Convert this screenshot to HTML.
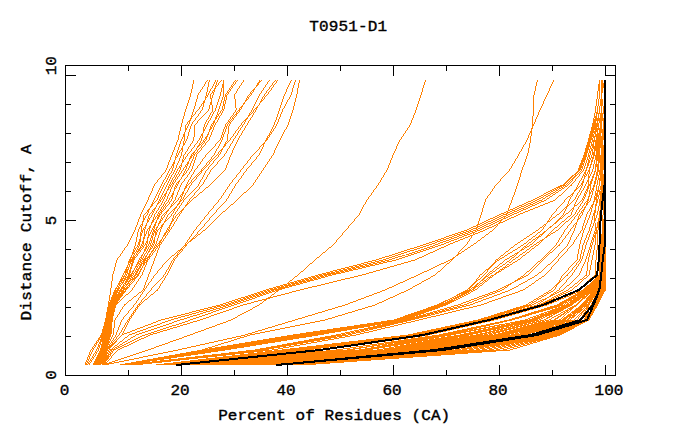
<!DOCTYPE html>
<html>
<head>
<meta charset="utf-8">
<title>T0951-D1</title>
<style>
html,body{margin:0;padding:0;background:#fff;}
body{width:680px;height:440px;overflow:hidden;}
svg{display:block;}
text{font-family:"Liberation Mono","DejaVu Sans Mono",monospace;font-weight:normal;font-size:16px;fill:#000;stroke:#000;stroke-width:0.4px;}
</style>
</head>
<body>
<svg width="680" height="440" viewBox="0 0 680 440">
<rect x="0" y="0" width="680" height="440" fill="#fff"/>
<defs><filter id="t" x="0" y="0" width="680" height="440" filterUnits="userSpaceOnUse" color-interpolation-filters="sRGB"><feComponentTransfer><feFuncA type="discrete" tableValues="0 1 1 1"/></feComponentTransfer></filter></defs>
<g fill="none" stroke="#ff8000" stroke-width="0.7" shape-rendering="crispEdges" filter="url(#t)">
<polyline points="84.9,365 91,350 101.3,335 105.6,320 108.4,305 110.8,290 112.8,275 116.9,260 127.4,245 135,230 140.6,215 147.9,200 154.4,185 166.2,170 171.8,155 177.9,140 181.5,125 185.5,110 190.5,95 194,80"/>
<polyline points="86,365 93,350 102.072,335 106.218,320 108.837,305 115,290 124.884,275 129.4,260 137.9,245 143,230 152.1,215 159.4,200 166.8,185 175,170 181.5,155 184.1,140 185.9,125 198,110 208,95 216,80"/>
<polyline points="87.4,365 96.75,350 102.671,335 106.495,320 109.643,305 115.611,290 123,275 130.3,260 135.3,245 138.5,230 146.8,215 154.1,200 161.5,185 169.7,170 177.9,155 186.7,140 191.2,125 202,110 206.3,95 209.5,80"/>
<polyline points="89,365 98.5,350 103.457,335 107.209,320 110.062,305 116.8,290 125.279,275 132,260 143.2,245 144.7,230 149.4,215 161.2,200 171.2,185 180.3,170 184.1,155 193.8,140 194.7,125 208.7,110 213,95 217.5,80"/>
<polyline points="93,365 100.5,350 104.017,335 107.633,320 110.28,305 117.559,290 128.554,275 132.9,260 141.5,245 147.4,230 157.4,215 166.5,200 172.9,185 182.9,170 192.9,155 201.7,140 204.4,125 212.9,110 210.4,95 221.5,80"/>
<polyline points="93.7075,365 101.207,350 104.592,335 107.745,320 110.854,305 118.54,290 126.64,275 131.2,260 139.7,245 141.2,230 144.1,215 156.8,200 164.1,185 172.4,170 176.2,155 181.4,140 188.5,125 193.8,110 198,95 207.5,80"/>
<polyline points="94.5992,365 101.692,350 105.721,335 108.305,320 111.301,305 120.062,290 130.61,275 140.5,260 146.8,245 149.1,230 154.7,215 163.8,200 169.4,185 177.6,170 187.6,155 199.1,140 207,125 215.4,110 220.4,95 224,80"/>
<polyline points="94.9935,365 102.047,350 106.406,335 109.074,320 111.796,305 120.855,290 129.34,275 133.8,260 145,245 151.8,230 160,215 171.8,200 175.6,185 188.2,170 194.5,155 206.1,140 211.5,125 222,110 225.4,95 235.5,80"/>
<polyline points="95.6905,365 102.523,350 106.996,335 109.359,320 112.652,305 121.369,290 131.656,275 139,260 148.5,245 153.5,230 158.7,215 169.1,200 177.5,185 185.6,170 191.2,155 204.4,140 213.2,125 218.7,110 223.7,95 223,80"/>
<polyline points="96.4099,365 102.812,350 107.6,335 110.047,320 112.879,305 122.79,290 134.872,275 143.4,260 153.8,245 156.2,230 162.6,215 177.9,200 187.9,185 201.5,170 214.1,155 222,140 227.3,125 238.7,110 251,95 260,80"/>
<polyline points="96.838,365 103.242,350 108.043,335 110.271,320 113.57,305 123.157,290 132.984,275 141.8,260 150.3,245 155,230 165.3,215 174.8,200 180.9,185 191.8,170 196.5,155 208.8,140 215,125 223.7,110 227,95 237.5,80"/>
<polyline points="97.7072,365 103.963,350 108.676,335 110.605,320 114.033,305 124.245,290 137.511,275 147,260 155.6,245 160.6,230 167.9,215 182.4,200 190.6,185 203.2,170 216.8,155 229.9,140 240.6,125 254.4,110 267,95 278,80"/>
<polyline points="98.4499,365 104.247,350 109.398,335 111.312,320 114.428,305 125.564,290 135.781,275 144.5,260 152.1,245 157.9,230 171.5,215 180.6,200 186.2,185 195.3,170 206.2,155 220.2,140 225.6,125 236.2,110 234.5,95 244,80"/>
<polyline points="99.2199,365 104.798,350 109.949,335 111.847,320 115.193,305 126.2,290 138.7,275 145.6,260 157.4,245 168.5,230 174.1,215 184.1,200 198.5,185 206.8,170 219.4,155 227.3,140 229.1,125 240.3,110 248.7,95 262,80"/>
<polyline points="99.469,365 105.314,350 110.9,335 112.2,320 115.6,305 131.9,290 141.9,275 148,260 159.1,245 166.8,230 176.8,215 192.1,200 210,185 225.3,170 230.9,155 237.9,140 246.8,125 256,110 264.4,95 275.5,80"/>
<polyline points="100.267,365 105.713,350 113,335 115,320 124.4,305 143.1,290 148.7,275 154.4,260 160,245 170.3,230 179.4,215 189.4,200 202.1,185 211.2,170 224.7,155 233.5,140 243.2,125 252,110 259.5,95 269.5,80"/>
<polyline points="100.81,365 106.398,350 116,335 121.9,320 134.4,305 144.4,290 155,275 167.6,260 185.6,245 204.7,230 220,215 237.1,200 252.9,185 262.9,170 272.9,155 279.9,140 287.9,125 293,110 296.8,95 299.5,80"/>
<polyline points="101.916,365 106.881,350 119,335 128.1,320 138.1,305 150.6,290 164.4,275 172.8,260 184.7,245 195,230 206.8,215 219.4,200 229.4,185 241.2,170 252.9,155 267,140 276.8,125 282.7,110 291,95 295.5,80"/>
<polyline points="102.4,365 107.4,350 121.75,335 129.4,320 139.4,305 157.5,290 166.9,275 174.3,260 186.5,245 200.3,230 212.9,215 226.5,200 235.6,185 246.5,170 259.1,155 266.1,140 274.1,125 279.4,110 284.4,95 291.5,80"/>
<polyline points="103,365 148,350 190,335 231,320 259,305 279,290 298,275 315,260 333,245 346,230 358.75,215 367,200 378,185 387,170 393,155 400,140 410,125 416,110 421,95 425.5,80"/>
<polyline points="104,365 178,350 245,335 295,320 345,305 385,290 418,275 450,260 473,245 493,230 506.5,215 512,200 517.5,185 522,170 527.5,155 530.5,140 532.5,125 533.3,110 534,95 537.5,80"/>
<polyline points="120,365 202,350 250,335 325,320 375,305 408,290 435,275 452,260 466,245 476,230 481,215 485.5,200 496,185 509.5,170 518.5,155 527,140 533.5,125 540,110 547,95 553.75,80"/>
<polyline points="103,365 108.6,350 121.75,335 161,320 220,305 266,290 318,275 376,260 423,245 467,230 499,215 533,200 561.5,185 578,170 584,155 588.5,140 592.5,125 595.5,110 597.5,95 599.5,80"/>
<polyline points="103.167,365 110.4,350 129,335 170.667,320 224.667,305 270,290 322.667,275 382.667,260 429,245 471.333,230 503.333,215 537.333,200 563.667,185 579.167,170 584.833,155 589.333,140 593.5,125 597.5,110 599.5,95 599.5,80"/>
<polyline points="103.333,365 112.2,350 136.25,335 180.333,320 229.333,305 274,290 327.333,275 389.333,260 435,245 475.667,230 507.667,215 541.667,200 565.833,185 580.333,170 585.667,155 590.167,140 594.5,125 597.5,110 599.5,95 599.5,80"/>
<polyline points="103.5,365 114,350 143.5,335 190,320 234,305 278,290 332,275 396,260 441,245 480,230 512,215 546,200 568,185 581.5,170 586.5,155 591,140 595.5,125 597.5,110 599.5,95 599.5,80"/>
<polyline points="104,365 118,350 150,335 200,320 243,305 300,290 362,275 415,260 448,245 485,230 518,215 555,200 571.5,185 583.5,170 588.5,155 592.5,140 596.5,125 599.5,110 601.5,95 601.5,80"/>
<polyline points="120,365 203,350 293,335 394,320 437,305 468.688,290 480.329,275 498.666,260 523.102,245 542.162,230 552.013,215 565.431,200 580.798,185 589.142,170 593.5,155 596,140 598.5,125 601.5,110 601.5,95 601.5,80"/>
<polyline points="120.6,365 207.4,350 298,335 396,320 438.8,305 466.715,290 484.332,275 496.282,260 515.089,245 537.724,230 557.377,215 574.383,200 582.602,185 586.357,170 592,155 594.4,140 597.5,125 599.5,110 601.5,95 601.5,80"/>
<polyline points="121.2,365 211.8,350 303,335 398,320 440.6,305 472.226,290 486.644,275 505.322,260 530.382,245 547.261,230 563.361,215 569.537,200 578.097,185 586.124,170 590,155 594,140 597.5,125 599.5,110 601.5,95 601.5,80"/>
<polyline points="121.8,365 216.2,350 308,335 400,320 442.4,305 469.806,290 488.873,275 510.299,260 526.651,245 547.055,230 565.314,215 582.239,200 588.594,185 589.145,170 594.4,155 597,140 598.5,125 601.5,110 601.5,95 602.5,80"/>
<polyline points="122.4,365 220.6,350 313,335 402,320 444.2,305 472.376,290 492.5,275 513.478,260 534.163,245 557.806,230 574.073,215 583.793,200 589.511,185 595.394,170 597,155 598,140 600.5,125 603.5,110 601.5,95 602.5,80"/>
<polyline points="123,365 225,350 318,335 404,320 446,305 475.437,290 494.192,275 518.234,260 537.601,245 552.914,230 570.894,215 576.736,200 585.723,185 592.77,170 596,155 597.5,140 600.5,125 601.5,110 601.5,95 602.5,80"/>
<polyline points="126,365 255,350 336,335 405,320 458,305 498.268,290 528.047,275 542.54,260 559.603,245 570.613,230 581.907,215 588.427,200 590.753,185 595.5,170 598,155 599,140 600.5,125 601.5,110 601.5,95 602.5,80"/>
<polyline points="128,365 259,350 342,335 408,320 464,305 502.154,290 524.103,275 540.706,260 555.84,245 565.299,230 576.712,215 587.5,200 594.217,185 597.5,170 598.75,155 600,140 601.5,125 603.5,110 601.5,95 602.5,80"/>
<polyline points="130,365 263,350 348,335 411,320 470,305 510.495,290 537.234,275 554.054,260 567.533,245 574.448,230 579.325,215 590.604,200 594.65,185 598.5,170 599.5,155 600.5,140 601.5,125 603.5,110 601.5,95 604.5,80"/>
<polyline points="134,365 272,350 356,335 419,320 481,305 523.163,290 545.405,275 558.512,260 572.044,245 581.914,230 586.532,215 595.068,200 599.401,185 601.5,170 602,155 602.5,140 604.5,125 604.5,110 604.5,95 604.5,80"/>
<polyline points="156,365 282,350 408,335 478,320 526,305 550.902,290 567.517,275 579.771,260 583.018,245 589.234,230 593.416,215 597.846,200 601.185,185 602,170 602.75,155 603,140 604.5,125 604.5,110 604.5,95 604.5,80"/>
<polyline points="160,365 287,350 410,335 480,320 529,305 554.218,290 562.846,275 577.021,260 579.662,245 583.975,230 590.167,215 594.285,200 597.023,185 600,170 601,155 601.5,140 603.5,125 604.5,110 604.5,95 604.5,80"/>
<polyline points="163,365 292,350 412,335 482,320 532,305 563.278,290 579.008,275 585.786,260 590.485,245 595.234,230 594.772,215 596.44,200 599.204,185 600.8,170 601.5,155 602,140 603.5,125 604.5,110 604.5,95 604.5,80"/>
<polyline points="169,365 300,350 416,335 485,320 537,305 558.68,290 571.774,275 581.681,260 586.116,245 591.333,230 597.196,215 600.116,200 601.664,185 603,170 603,155 604.5,140 604.5,125 604.5,110 604.5,95 604.5,80"/>
<polyline points="171,365 303,350 418,335 486,320 539,305 567.791,290 586.557,275 588.186,260 591.995,245 596.544,230 600.734,215 599.87,200 602.929,185 603,170 604.5,155 604.5,140 604.5,125 604.5,110 604.5,95 604.5,80"/>
<polyline points="172,365 306,350 419,335 487,320 540,305 572,290 589,275 592,260 595,245 596.4,230 599.6,215 601,200 602.5,185 604.5,170 604.5,155 604.5,140 604.5,125 604.5,110 604.5,95 604.5,80"/>
<polyline points="175,365 316,350 422,335 488.5,320 542,305 578,290 595,275 596,260 597.5,245 598,230 600,215 602,200 603,185 604.5,170 604.5,155 604.5,140 604.5,125 604.5,110 604.5,95 604.5,80"/>
<polyline points="177,365 321.5,350 428,335 494,320 547,305 583,290 599.5,275 600,260 600.6,245 602.5,230 603,215 603,200 604.5,185 604.5,170 604.5,155 604.5,140 604.5,125 604.5,110 604.5,95 604.5,80"/>
<polyline points="180.126,365 335.965,350 438.624,335 508.994,320 556.821,305 583.714,290 599.53,275 600.061,260 600.703,245 602.545,230 603,215 603,200 604.5,185 604.5,170 604.5,155 604.5,140 604.5,125 604.5,110 604.5,95 604.5,80"/>
<polyline points="184.633,365 346.52,350 442.364,335 509.328,320 558.272,305 584.665,290 599.561,275 600.121,260 600.806,245 602.591,230 603,215 603,200 604.5,185 604.5,170 604.5,155 604.5,140 604.5,125 604.5,110 604.5,95 604.5,80"/>
<polyline points="185.67,365 346.708,350 444.248,335 509.763,320 560.072,305 585.022,290 599.591,275 600.182,260 600.909,245 602.636,230 603,215 604.5,200 604.5,185 604.5,170 604.5,155 604.5,140 604.5,125 604.5,110 604.5,95 604.5,80"/>
<polyline points="186.811,365 348.107,350 444.538,335 509.939,320 561.009,305 585.069,290 599.621,275 600.242,260 601.012,245 602.682,230 603,215 604.5,200 604.5,185 604.5,170 604.5,155 604.5,140 604.5,125 604.5,110 604.5,95 604.5,80"/>
<polyline points="188.77,365 359.087,350 446.378,335 511.776,320 563.594,305 585.082,290 599.652,275 600.303,260 601.115,245 602.727,230 604.5,215 604.5,200 604.5,185 604.5,170 604.5,155 604.5,140 604.5,125 604.5,110 604.5,95 604.5,80"/>
<polyline points="198.554,365 363.47,350 448.702,335 524.842,320 566.153,305 586.18,290 599.682,275 600.364,260 601.218,245 602.773,230 604.5,215 604.5,200 604.5,185 604.5,170 604.5,155 604.5,140 604.5,125 604.5,110 604.5,95 604.5,80"/>
<polyline points="199.924,365 364.12,350 451.094,335 524.852,320 566.715,305 587.474,290 599.712,275 600.424,260 601.321,245 602.818,230 604.5,215 604.5,200 604.5,185 604.5,170 604.5,155 604.5,140 604.5,125 604.5,110 604.5,95 604.5,80"/>
<polyline points="207.838,365 366.35,350 459.874,335 529.258,320 568.429,305 587.876,290 599.742,275 600.485,260 601.424,245 602.864,230 604.5,215 604.5,200 604.5,185 604.5,170 604.5,155 604.5,140 604.5,125 604.5,110 604.5,95 604.5,80"/>
<polyline points="211.658,365 377.415,350 462.282,335 531.601,320 568.592,305 588.44,290 599.773,275 600.545,260 601.527,245 602.909,230 604.5,215 604.5,200 604.5,185 604.5,170 604.5,155 604.5,140 604.5,125 604.5,110 604.5,95 604.5,80"/>
<polyline points="211.875,365 383.836,350 466.538,335 533.073,320 568.659,305 589.296,290 599.803,275 600.606,260 601.63,245 602.955,230 604.5,215 604.5,200 604.5,185 604.5,170 604.5,155 604.5,140 604.5,125 604.5,110 604.5,95 604.5,80"/>
<polyline points="212.876,365 386.243,350 468.889,335 533.524,320 568.753,305 590.126,290 599.833,275 600.667,260 601.733,245 603,230 604.5,215 604.5,200 604.5,185 604.5,170 604.5,155 604.5,140 604.5,125 604.5,110 604.5,95 604.5,80"/>
<polyline points="219.472,365 387.536,350 468.95,335 535.469,320 568.788,305 591.528,290 599.864,275 600.727,260 601.836,245 603.045,230 604.5,215 604.5,200 604.5,185 604.5,170 604.5,155 604.5,140 604.5,125 604.5,110 604.5,95 604.5,80"/>
<polyline points="221.723,365 387.55,350 476.298,335 539.281,320 569.662,305 591.83,290 599.894,275 600.788,260 601.939,245 603.091,230 604.5,215 604.5,200 604.5,185 604.5,170 604.5,155 604.5,140 604.5,125 604.5,110 604.5,95 604.5,80"/>
<polyline points="224.523,365 388.829,350 479.162,335 539.308,320 569.99,305 591.911,290 599.924,275 600.848,260 602.042,245 603.136,230 604.5,215 604.5,200 604.5,185 604.5,170 604.5,155 604.5,140 604.5,125 604.5,110 604.5,95 604.5,80"/>
<polyline points="225.318,365 394.272,350 484.054,335 543.941,320 570.152,305 592.126,290 599.955,275 600.909,260 602.145,245 603.182,230 604.5,215 604.5,200 604.5,185 604.5,170 604.5,155 604.5,140 604.5,125 604.5,110 604.5,95 604.5,80"/>
<polyline points="229.084,365 394.733,350 488.891,335 544.212,320 571.688,305 592.219,290 599.985,275 600.97,260 602.248,245 603.227,230 604.5,215 604.5,200 604.5,185 604.5,170 604.5,155 604.5,140 604.5,125 604.5,110 604.5,95 604.5,80"/>
<polyline points="229.599,365 394.992,350 494.405,335 548.824,320 575.605,305 592.255,290 600.015,275 601.03,260 602.352,245 603.273,230 604.5,215 604.5,200 604.5,185 604.5,170 604.5,155 604.5,140 604.5,125 604.5,110 604.5,95 604.5,80"/>
<polyline points="231.172,365 399.911,350 495.174,335 553.776,320 576.423,305 592.533,290 600.045,275 601.091,260 602.455,245 603.318,230 604.5,215 604.5,200 604.5,185 604.5,170 604.5,155 604.5,140 604.5,125 604.5,110 604.5,95 604.5,80"/>
<polyline points="233.887,365 401.916,350 496.387,335 554.961,320 576.461,305 593.419,290 600.076,275 601.152,260 602.558,245 603.364,230 604.5,215 604.5,200 604.5,185 604.5,170 604.5,155 604.5,140 604.5,125 604.5,110 604.5,95 604.5,80"/>
<polyline points="236.796,365 403.83,350 498.641,335 559.394,320 576.66,305 593.614,290 600.106,275 601.212,260 602.661,245 603.409,230 604.5,215 604.5,200 604.5,185 604.5,170 604.5,155 604.5,140 604.5,125 604.5,110 604.5,95 604.5,80"/>
<polyline points="239.949,365 403.897,350 501.268,335 561.575,320 581.596,305 593.643,290 600.136,275 601.273,260 602.764,245 603.455,230 604.5,215 604.5,200 604.5,185 604.5,170 604.5,155 604.5,140 604.5,125 604.5,110 604.5,95 604.5,80"/>
<polyline points="241.07,365 407.818,350 501.905,335 562.185,320 582.164,305 593.919,290 600.167,275 601.333,260 602.867,245 603.5,230 604.5,215 604.5,200 604.5,185 604.5,170 604.5,155 604.5,140 604.5,125 604.5,110 604.5,95 604.5,80"/>
<polyline points="244.729,365 412.72,350 502.068,335 563.851,320 583.274,305 594.545,290 600.197,275 601.394,260 602.97,245 603.545,230 604.5,215 604.5,200 604.5,185 604.5,170 604.5,155 604.5,140 604.5,125 604.5,110 604.5,95 604.5,80"/>
<polyline points="249.769,365 413.738,350 505.569,335 564.467,320 584.541,305 594.752,290 600.227,275 601.455,260 603.073,245 603.591,230 604.5,215 604.5,200 604.5,185 604.5,170 604.5,155 604.5,140 604.5,125 604.5,110 604.5,95 604.5,80"/>
<polyline points="252.338,365 417.546,350 506.271,335 566.657,320 584.737,305 594.863,290 600.258,275 601.515,260 603.176,245 603.636,230 604.5,215 604.5,200 604.5,185 604.5,170 604.5,155 604.5,140 604.5,125 604.5,110 604.5,95 604.5,80"/>
<polyline points="252.843,365 418.093,350 510.993,335 568.131,320 585.827,305 595.103,290 600.288,275 601.576,260 603.279,245 603.682,230 604.5,215 604.5,200 604.5,185 604.5,170 604.5,155 604.5,140 604.5,125 604.5,110 604.5,95 604.5,80"/>
<polyline points="264.13,365 420.868,350 511.656,335 569.699,320 587.262,305 595.111,290 600.318,275 601.636,260 603.382,245 603.727,230 604.5,215 604.5,200 604.5,185 604.5,170 604.5,155 604.5,140 604.5,125 604.5,110 604.5,95 604.5,80"/>
<polyline points="264.751,365 427.255,350 515.949,335 570.164,320 587.704,305 595.398,290 600.348,275 601.697,260 603.485,245 603.773,230 604.5,215 604.5,200 604.5,185 604.5,170 604.5,155 604.5,140 604.5,125 604.5,110 604.5,95 604.5,80"/>
<polyline points="267.755,365 430.924,350 518.172,335 572.512,320 588.296,305 595.602,290 600.379,275 601.758,260 603.588,245 603.818,230 604.5,215 604.5,200 604.5,185 604.5,170 604.5,155 604.5,140 604.5,125 604.5,110 604.5,95 604.5,80"/>
<polyline points="267.818,365 432.176,350 521.178,335 576.891,320 588.46,305 596.776,290 600.409,275 601.818,260 603.691,245 603.864,230 604.5,215 604.5,200 604.5,185 604.5,170 604.5,155 604.5,140 604.5,125 604.5,110 604.5,95 604.5,80"/>
<polyline points="269.955,365 434.297,350 523.904,335 579.895,320 588.967,305 597.596,290 600.439,275 601.879,260 603.794,245 603.909,230 604.5,215 604.5,200 604.5,185 604.5,170 604.5,155 604.5,140 604.5,125 604.5,110 604.5,95 604.5,80"/>
<polyline points="271.146,365 435.81,350 528.548,335 584.31,320 589.133,305 597.618,290 600.47,275 601.939,260 603.897,245 603.955,230 604.5,215 604.5,200 604.5,185 604.5,170 604.5,155 604.5,140 604.5,125 604.5,110 604.5,95 604.5,80"/>
<polyline points="272,365 436,350 530,335 585,320 591,305 598,290 600.5,275 602,260 604,245 604,230 604.5,215 604.5,200 604.5,185 604.5,170 604.5,155 604.5,140 604.5,125 604.5,110 604.5,95 604.5,80"/>
<polyline points="278,365 448,350 540,335 585,320 594,305 600.5,290 602,275 603.5,260 605,245 604.8,230 604.8,215 604.8,200 604.8,185 604.8,170 604.8,155 604.8,140 604.8,125 604.8,110 604.8,95 604.8,80"/>
<polyline points="280.667,365 454.889,350 542.222,335 585.444,320 594.389,305 601.033,290 602.367,275 603.7,260 605,245 604.8,230 604.8,215 604.8,200 604.8,185 604.8,170 604.8,155 604.8,140 604.8,125 604.8,110 604.8,95 604.8,80"/>
<polyline points="283.333,365 461.778,350 544.444,335 585.889,320 594.778,305 601.567,290 602.733,275 603.9,260 605,245 604.8,230 604.8,215 604.8,200 604.8,185 604.8,170 604.8,155 604.8,140 604.8,125 604.8,110 604.8,95 604.8,80"/>
<polyline points="286,365 468.667,350 546.667,335 586.333,320 595.167,305 602.1,290 603.1,275 604.1,260 605,245 604.8,230 604.8,215 604.8,200 604.8,185 604.8,170 604.8,155 604.8,140 604.8,125 604.8,110 604.8,95 604.8,80"/>
<polyline points="288.667,365 475.556,350 548.889,335 586.778,320 595.556,305 602.633,290 603.467,275 604.3,260 605,245 604.8,230 604.8,215 604.8,200 604.8,185 604.8,170 604.8,155 604.8,140 604.8,125 604.8,110 604.8,95 604.8,80"/>
<polyline points="291.333,365 482.444,350 551.111,335 587.222,320 595.944,305 603.167,290 603.833,275 604.5,260 605,245 604.8,230 604.8,215 604.8,200 604.8,185 604.8,170 604.8,155 604.8,140 604.8,125 604.8,110 604.8,95 604.8,80"/>
<polyline points="294,365 489.333,350 553.333,335 587.667,320 596.333,305 603.7,290 604.2,275 604.7,260 605,245 604.8,230 604.8,215 604.8,200 604.8,185 604.8,170 604.8,155 604.8,140 604.8,125 604.8,110 604.8,95 604.8,80"/>
<polyline points="296.667,365 496.222,350 555.556,335 588.111,320 596.722,305 604.233,290 604.567,275 604.9,260 605,245 604.8,230 604.8,215 604.8,200 604.8,185 604.8,170 604.8,155 604.8,140 604.8,125 604.8,110 604.8,95 604.8,80"/>
<polyline points="299.333,365 503.111,350 557.778,335 588.556,320 597.111,305 604.767,290 604.933,275 605.1,260 605,245 604.8,230 604.8,215 604.8,200 604.8,185 604.8,170 604.8,155 604.8,140 604.8,125 604.8,110 604.8,95 604.8,80"/>
<polyline points="302,365 510,350 560,335 589,320 597.5,305 605.3,290 605.3,275 605.3,260 605,245 604.8,230 604.8,215 604.8,200 604.8,185 604.8,170 604.8,155 604.8,140 604.8,125 604.8,110 604.8,95 604.8,80"/>
</g>
<g fill="none" stroke-linejoin="round" shape-rendering="crispEdges">
<polyline points="176,365 320,350 423,335 489,320 543,305 578.75,290 597,275 598.75,260 599.5,245 599.8,230 601,215 602.6,200 604.5,185 605,170 605,155 605,140 605,125 605,110 605,95 605,80" stroke="#000" stroke-width="2"/>
<polyline points="276,365 443,350 537,335 587,320 593.5,305 599.4,290 601.2,275 602.75,260 604.8,245 605,230 605,215 605,200 605,185 605,170 605,155 605,140 605,125 605,110 605,95 605,80" stroke="#000" stroke-width="2"/>
<polyline points="277,365 435,350 531,335 580.5,320 592.5,305 599.2,290 601.2,275 602.75,260 604.8,245 605,230 605,215 605,200 605,185 605,170 605,155 605,140 605,125 605,110 605,95 605,80" stroke="#000" stroke-width="2"/>
</g>
<g fill="none" stroke="#000" stroke-width="1" shape-rendering="crispEdges">
<rect x="65.5" y="65.5" width="550" height="310"/>
<path d="M128.5,376v-6M128.5,65v6M181.5,376v-11M181.5,65v11M234.5,376v-6M234.5,65v6M287.5,376v-11M287.5,65v11M340.5,376v-6M340.5,65v6M393.5,376v-11M393.5,65v11M446.5,376v-6M446.5,65v6M499.5,376v-11M499.5,65v11M552.5,376v-6M552.5,65v6M605.5,376v-11M605.5,65v11M65,75.5h11M616,75.5h-11M65,104.5h6M616,104.5h-6M65,133.5h6M616,133.5h-6M65,162.5h6M616,162.5h-6M65,191.5h6M616,191.5h-6M65,220.5h11M616,220.5h-11M65,249.5h6M616,249.5h-6M65,278.5h6M616,278.5h-6M65,307.5h6M616,307.5h-6M65,336.5h6M616,336.5h-6"/>
</g>
<g text-anchor="middle">
<text transform="translate(348.3,30.5) scale(1,0.91)" letter-spacing="0.15">T0951-D1</text>
<text transform="translate(334.2,420.3) scale(1,0.91)" letter-spacing="0.08">Percent of Residues (CA)</text>
<text transform="translate(30.7,232.3) rotate(-90) scale(1,0.91)" letter-spacing="0.2">Distance Cutoff, A</text>
<text transform="translate(64.5,395.3) scale(1,0.91)">0</text>
<text transform="translate(180,395.3) scale(1,0.91)">20</text>
<text transform="translate(286,395.3) scale(1,0.91)">40</text>
<text transform="translate(392,395.3) scale(1,0.91)">60</text>
<text transform="translate(498,395.3) scale(1,0.91)">80</text>
<text transform="translate(609,395.3) scale(1,0.91)">100</text>
<text transform="translate(56,375) rotate(-90) scale(1,0.91)">0</text>
<text transform="translate(56,220.4) rotate(-90) scale(1,0.91)">5</text>
<text transform="translate(56,65.7) rotate(-90) scale(1,0.91)">10</text>
</g>
</svg>
</body>
</html>
